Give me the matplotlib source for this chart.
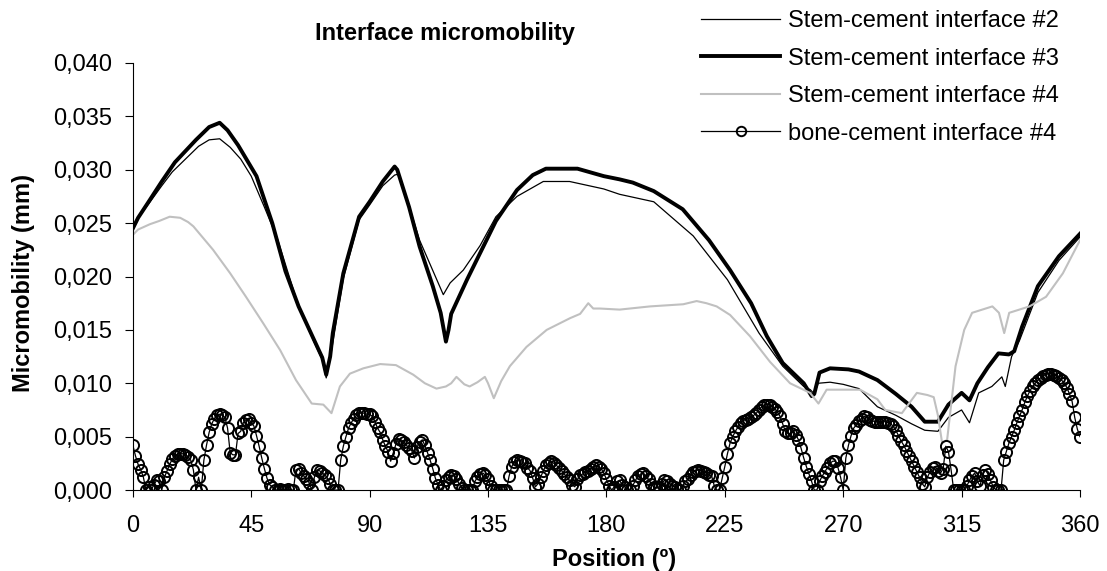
import numpy as np
import matplotlib
matplotlib.use('Agg')
import matplotlib.pyplot as plt

plt.rcParams['font.family'] = ['Liberation Sans', 'DejaVu Sans']

# stem-cement interface #2 (thin black)
stem2_pos = [0, 2, 6, 11, 15, 20, 25, 29, 33, 37, 41, 45, 50, 55, 63, 69, 72, 73.5, 75, 80,
             86, 90, 95, 99.5, 101, 105, 109, 115, 118, 120.6, 125.6, 132, 138, 146, 156, 166,
             179, 185, 198, 213, 226, 238, 247, 255, 257.5, 259, 260.5, 265, 270, 276, 283, 290,
             296, 301, 306, 310, 315, 318, 321.5, 326.5, 330.3, 331.6, 334, 337, 344, 352, 360]
stem2_val = [0.0245, 0.0255, 0.0268, 0.0285, 0.0298, 0.0310, 0.0322, 0.0328, 0.0329, 0.0321,
             0.0310, 0.0294, 0.0265, 0.0235, 0.0172, 0.0138, 0.0122, 0.0105, 0.0123, 0.0198,
             0.0253, 0.0267, 0.0285, 0.0295, 0.0296, 0.0266, 0.0234, 0.0200, 0.0183, 0.0194,
             0.0206, 0.0229, 0.0256, 0.0275, 0.0289, 0.0289, 0.0282, 0.0277, 0.0270, 0.0238,
             0.0197, 0.0147, 0.0116, 0.0097, 0.0094, 0.0090, 0.0100, 0.0101, 0.0099, 0.0095,
             0.0078, 0.0070, 0.0062, 0.0056, 0.0055, 0.0068, 0.0075, 0.0063, 0.0091, 0.0097,
             0.0106, 0.0097, 0.0125, 0.0140, 0.0185, 0.0215, 0.0237]

# stem-cement interface #3 (thick black)
stem3_pos = [0, 2, 6, 11, 16, 24, 29, 33, 36, 40, 47, 53, 58, 63, 69, 72, 73.5, 75, 76, 80,
             86, 90, 95, 99.5, 100.5, 105, 109, 114, 117, 119, 120, 121, 127, 133, 138, 146,
             152, 157, 163, 169, 179, 185, 190, 198, 209, 219, 227, 235, 241, 247, 255, 258,
             259, 261, 265, 272, 276, 283, 290, 296, 301, 306, 310, 315, 318, 321, 325, 329,
             333, 335, 338, 344, 352, 360]
stem3_val = [0.0245, 0.0255, 0.0270, 0.0289, 0.0307, 0.0328, 0.0340, 0.0344, 0.0337, 0.0323,
             0.0294, 0.0250, 0.0205, 0.0172, 0.0140, 0.0124, 0.0108, 0.0125, 0.0147, 0.0203,
             0.0256, 0.0270, 0.0289, 0.0303, 0.0300, 0.0265, 0.0228, 0.0191, 0.0166, 0.0139,
             0.0150, 0.0165, 0.0197, 0.0227, 0.0252, 0.0281, 0.0295, 0.0301, 0.0301, 0.0301,
             0.0294, 0.0291, 0.0288, 0.0280, 0.0263, 0.0234, 0.0206, 0.0175, 0.0144, 0.0119,
             0.0100, 0.0088, 0.0090, 0.0110, 0.0114, 0.0113, 0.0111, 0.0103, 0.0090, 0.0078,
             0.0064, 0.0064, 0.0080, 0.0091, 0.0084, 0.0100, 0.0115, 0.0128, 0.0127, 0.0130,
             0.0153, 0.0191, 0.0219, 0.0240]

# stem-cement interface #4 (grey)
stem4_pos = [0, 2, 6.5, 10, 14, 18, 21, 23, 30.5, 37, 43, 49.6, 56, 62, 68, 72.4, 75.5, 78.7,
             82.5, 87.6, 94, 100, 106.6, 111, 115.4, 119, 121, 123, 126, 128, 131, 133.8, 135,
             137.2, 140, 143.3, 149.6, 157.3, 166.2, 170, 173.1, 175, 177.6, 185, 196.6, 209.2,
             214.3, 218, 221.9, 227, 234.6, 242.2, 249.8, 257.4, 260.6, 263.7, 276.4, 283, 286,
             292.3, 298, 302, 304.4, 306, 307.6, 309.5, 312.7, 316, 319, 326.7, 329.2, 331.2,
             333.1, 340.8, 347.1, 353.5, 360]
stem4_val = [0.0239, 0.0244, 0.0249, 0.0252, 0.0256, 0.0255, 0.0251, 0.0247, 0.0225, 0.0203,
             0.0181, 0.0156, 0.0131, 0.0103, 0.0081, 0.0080, 0.0072, 0.0097, 0.0109, 0.0114,
             0.0118, 0.0117, 0.0108, 0.0100, 0.0095, 0.0097, 0.0100, 0.0106, 0.0099, 0.0097,
             0.0101, 0.0106, 0.0100, 0.0086, 0.0102, 0.0116, 0.0134, 0.0150, 0.0161, 0.0165,
             0.0175, 0.0170, 0.0170, 0.0169, 0.0172, 0.0174, 0.0177, 0.0175, 0.0172, 0.0164,
             0.0144, 0.0120, 0.0100, 0.0091, 0.0081, 0.0094, 0.0094, 0.0085, 0.0075, 0.0072,
             0.0091, 0.0089, 0.0087, 0.0070, 0.0044, 0.0047, 0.0116, 0.0150, 0.0166, 0.0172,
             0.0166, 0.0147, 0.0166, 0.0172, 0.0181, 0.0203, 0.0234]

# bone-cement interface #4, one value per degree 0..360
bone_val = [
    0.0042, 0.0032, 0.0024, 0.0019, 0.0012, 0.0000, 0.0003, 0.0000, 0.0005, 0.0009,
    0.0008, 0.0000, 0.0012, 0.0018, 0.0024, 0.0029, 0.0032, 0.0034, 0.0034, 0.0034,
    0.0033, 0.0031, 0.0028, 0.0019, 0.0000, 0.0012, 0.0000, 0.0028, 0.0042, 0.0054,
    0.0062, 0.0067, 0.0070, 0.0071, 0.0070, 0.0068, 0.0058, 0.0035, 0.0033, 0.0033,
    0.0053, 0.0055, 0.0063, 0.0066, 0.0067, 0.0063, 0.0060, 0.0051, 0.0041, 0.0030,
    0.0020, 0.0011, 0.0005, 0.0003, 0.0000, 0.0000, 0.0001, 0.0000, 0.0000, 0.0001,
    0.0000, 0.0000, 0.0019, 0.0020, 0.0016, 0.0013, 0.0010, 0.0007, 0.0000, 0.0012,
    0.0019, 0.0018, 0.0016, 0.0014, 0.0011, 0.0006, 0.0000, 0.0000, 0.0000, 0.0028,
    0.0041, 0.0050, 0.0058, 0.0063, 0.0067, 0.0070, 0.0072, 0.0072, 0.0072, 0.0071,
    0.0071, 0.0069, 0.0064, 0.0058, 0.0054, 0.0047, 0.0041, 0.0036, 0.0027, 0.0035,
    0.0043, 0.0048, 0.0047, 0.0045, 0.0042, 0.0039, 0.0037, 0.0030, 0.0040, 0.0045,
    0.0047, 0.0042, 0.0035, 0.0028, 0.0020, 0.0011, 0.0005, 0.0000, 0.0004, 0.0009,
    0.0012, 0.0014, 0.0013, 0.0010, 0.0006, 0.0002, 0.0000, 0.0000, 0.0000, 0.0000,
    0.0008, 0.0012, 0.0015, 0.0016, 0.0014, 0.0010, 0.0004, 0.0000, 0.0000, 0.0000,
    0.0000, 0.0000, 0.0000, 0.0013, 0.0022, 0.0026, 0.0028, 0.0027, 0.0026, 0.0025,
    0.0021, 0.0018, 0.0011, 0.0003, 0.0006, 0.0012, 0.0018, 0.0023, 0.0025, 0.0027,
    0.0025, 0.0023, 0.0021, 0.0018, 0.0015, 0.0012, 0.0009, 0.0005, 0.0003, 0.0010,
    0.0014, 0.0015, 0.0017, 0.0018, 0.0020, 0.0022, 0.0023, 0.0022, 0.0020, 0.0016,
    0.0010, 0.0004, 0.0000, 0.0003, 0.0008, 0.0009, 0.0005, 0.0003, 0.0000, 0.0000,
    0.0004, 0.0009, 0.0013, 0.0015, 0.0016, 0.0013, 0.0010, 0.0006, 0.0003, 0.0002,
    0.0003, 0.0006, 0.0009, 0.0008, 0.0006, 0.0004, 0.0003, 0.0001, 0.0000, 0.0004,
    0.0008, 0.0010, 0.0014, 0.0017, 0.0018, 0.0019, 0.0018, 0.0017, 0.0016, 0.0014,
    0.0013, 0.0004, 0.0000, 0.0000, 0.0011, 0.0022, 0.0034, 0.0044, 0.0050, 0.0055,
    0.0059, 0.0063, 0.0065, 0.0066, 0.0067, 0.0068, 0.0070, 0.0072, 0.0075, 0.0078,
    0.0080, 0.0080, 0.0080, 0.0078, 0.0076, 0.0073, 0.0069, 0.0062, 0.0055, 0.0053,
    0.0053, 0.0055, 0.0052, 0.0047, 0.0039, 0.0030, 0.0022, 0.0015, 0.0008, 0.0000,
    0.0000, 0.0008, 0.0013, 0.0017, 0.0021, 0.0025, 0.0027, 0.0027, 0.0021, 0.0012,
    0.0000, 0.0030, 0.0042, 0.0051, 0.0058, 0.0061, 0.0065, 0.0067, 0.0069, 0.0068,
    0.0066, 0.0065, 0.0064, 0.0064, 0.0064, 0.0064, 0.0064, 0.0063, 0.0062, 0.0060,
    0.0056, 0.0051, 0.0046, 0.0042, 0.0037, 0.0032, 0.0027, 0.0022, 0.0017, 0.0012,
    0.0006, 0.0003, 0.0012, 0.0017, 0.0021, 0.0022, 0.0018, 0.0016, 0.0020, 0.0041,
    0.0036, 0.0019, 0.0000, 0.0000, 0.0000, 0.0000, 0.0000, 0.0004, 0.0009, 0.0013,
    0.0016, 0.0008, 0.0004, 0.0014, 0.0019, 0.0015, 0.0009, 0.0003, 0.0000, 0.0000,
    0.0000, 0.0028, 0.0036, 0.0044, 0.0050, 0.0056, 0.0063, 0.0069, 0.0075, 0.0082,
    0.0088, 0.0093, 0.0097, 0.0100, 0.0103, 0.0105, 0.0107, 0.0108, 0.0109, 0.0109,
    0.0108, 0.0107, 0.0105, 0.0103, 0.0100, 0.0096, 0.0090, 0.0083, 0.0068, 0.0057,
    0.0050]
bone_pos = np.arange(len(bone_val))

labels = ['Stem-cement interface #2', 'Stem-cement interface #3',
          'Stem-cement interface #4', 'bone-cement interface #4']
x_ticks = [0, 45, 90, 135, 180, 225, 270, 315, 360]
y_ticks = [0.000, 0.005, 0.010, 0.015, 0.020, 0.025, 0.030, 0.035, 0.040]

FS = 17

fig = plt.figure(figsize=(11.07, 5.71), dpi=100)
ax = fig.add_axes([0.120, 0.1418, 0.8556, 0.7479])

ax.plot(stem2_pos, stem2_val, color='black', lw=0.9, label=labels[0])
ax.plot(stem3_pos, stem3_val, color='black', lw=2.8, label=labels[1])
ax.plot(stem4_pos, stem4_val, color='#c0c0c0', lw=1.5, label=labels[2])
ax.plot(bone_pos, bone_val, color='black', lw=0.9, marker='o', ms=8,
        mfc='none', mec='black', mew=1.4, label=labels[3])

ax.set_xlim(0, 360)
ax.set_ylim(0, 0.040)
ax.set_xticks(x_ticks)
ax.set_yticks(y_ticks)
ax.yaxis.set_major_formatter(plt.FuncFormatter(lambda v, p: ('%.3f' % v).replace('.', ',')))
ax.tick_params(axis='y', direction='out', length=5.8, width=0.8, pad=9, labelsize=FS)
ax.tick_params(axis='x', direction='out', length=5, width=0.8, pad=13, labelsize=FS)
for s in ['top', 'right']:
    ax.spines[s].set_visible(False)
for s in ['left', 'bottom']:
    ax.spines[s].set_linewidth(0.8)

fig.text(445 / 1107, 1 - 40 / 571, 'Interface micromobility', fontsize=FS,
         fontweight='bold', ha='center', va='baseline')
fig.text(24 / 1107, 0.505, 'Micromobility (mm)', fontsize=FS, fontweight='bold',
         rotation=90, ha='center', va='center')
fig.text(614 / 1107, 1 - 566 / 571, 'Position (º)', fontsize=FS, fontweight='bold',
         ha='center', va='baseline')

fig.legend(loc='upper left', bbox_to_anchor=(701 / 1107, 1 - 10 / 571), frameon=False,
           fontsize=FS, borderpad=0, borderaxespad=0, handlelength=3.35,
           handletextpad=0.34, labelspacing=0.66, markerscale=0.85)

fig.savefig('out.png', dpi=100)
